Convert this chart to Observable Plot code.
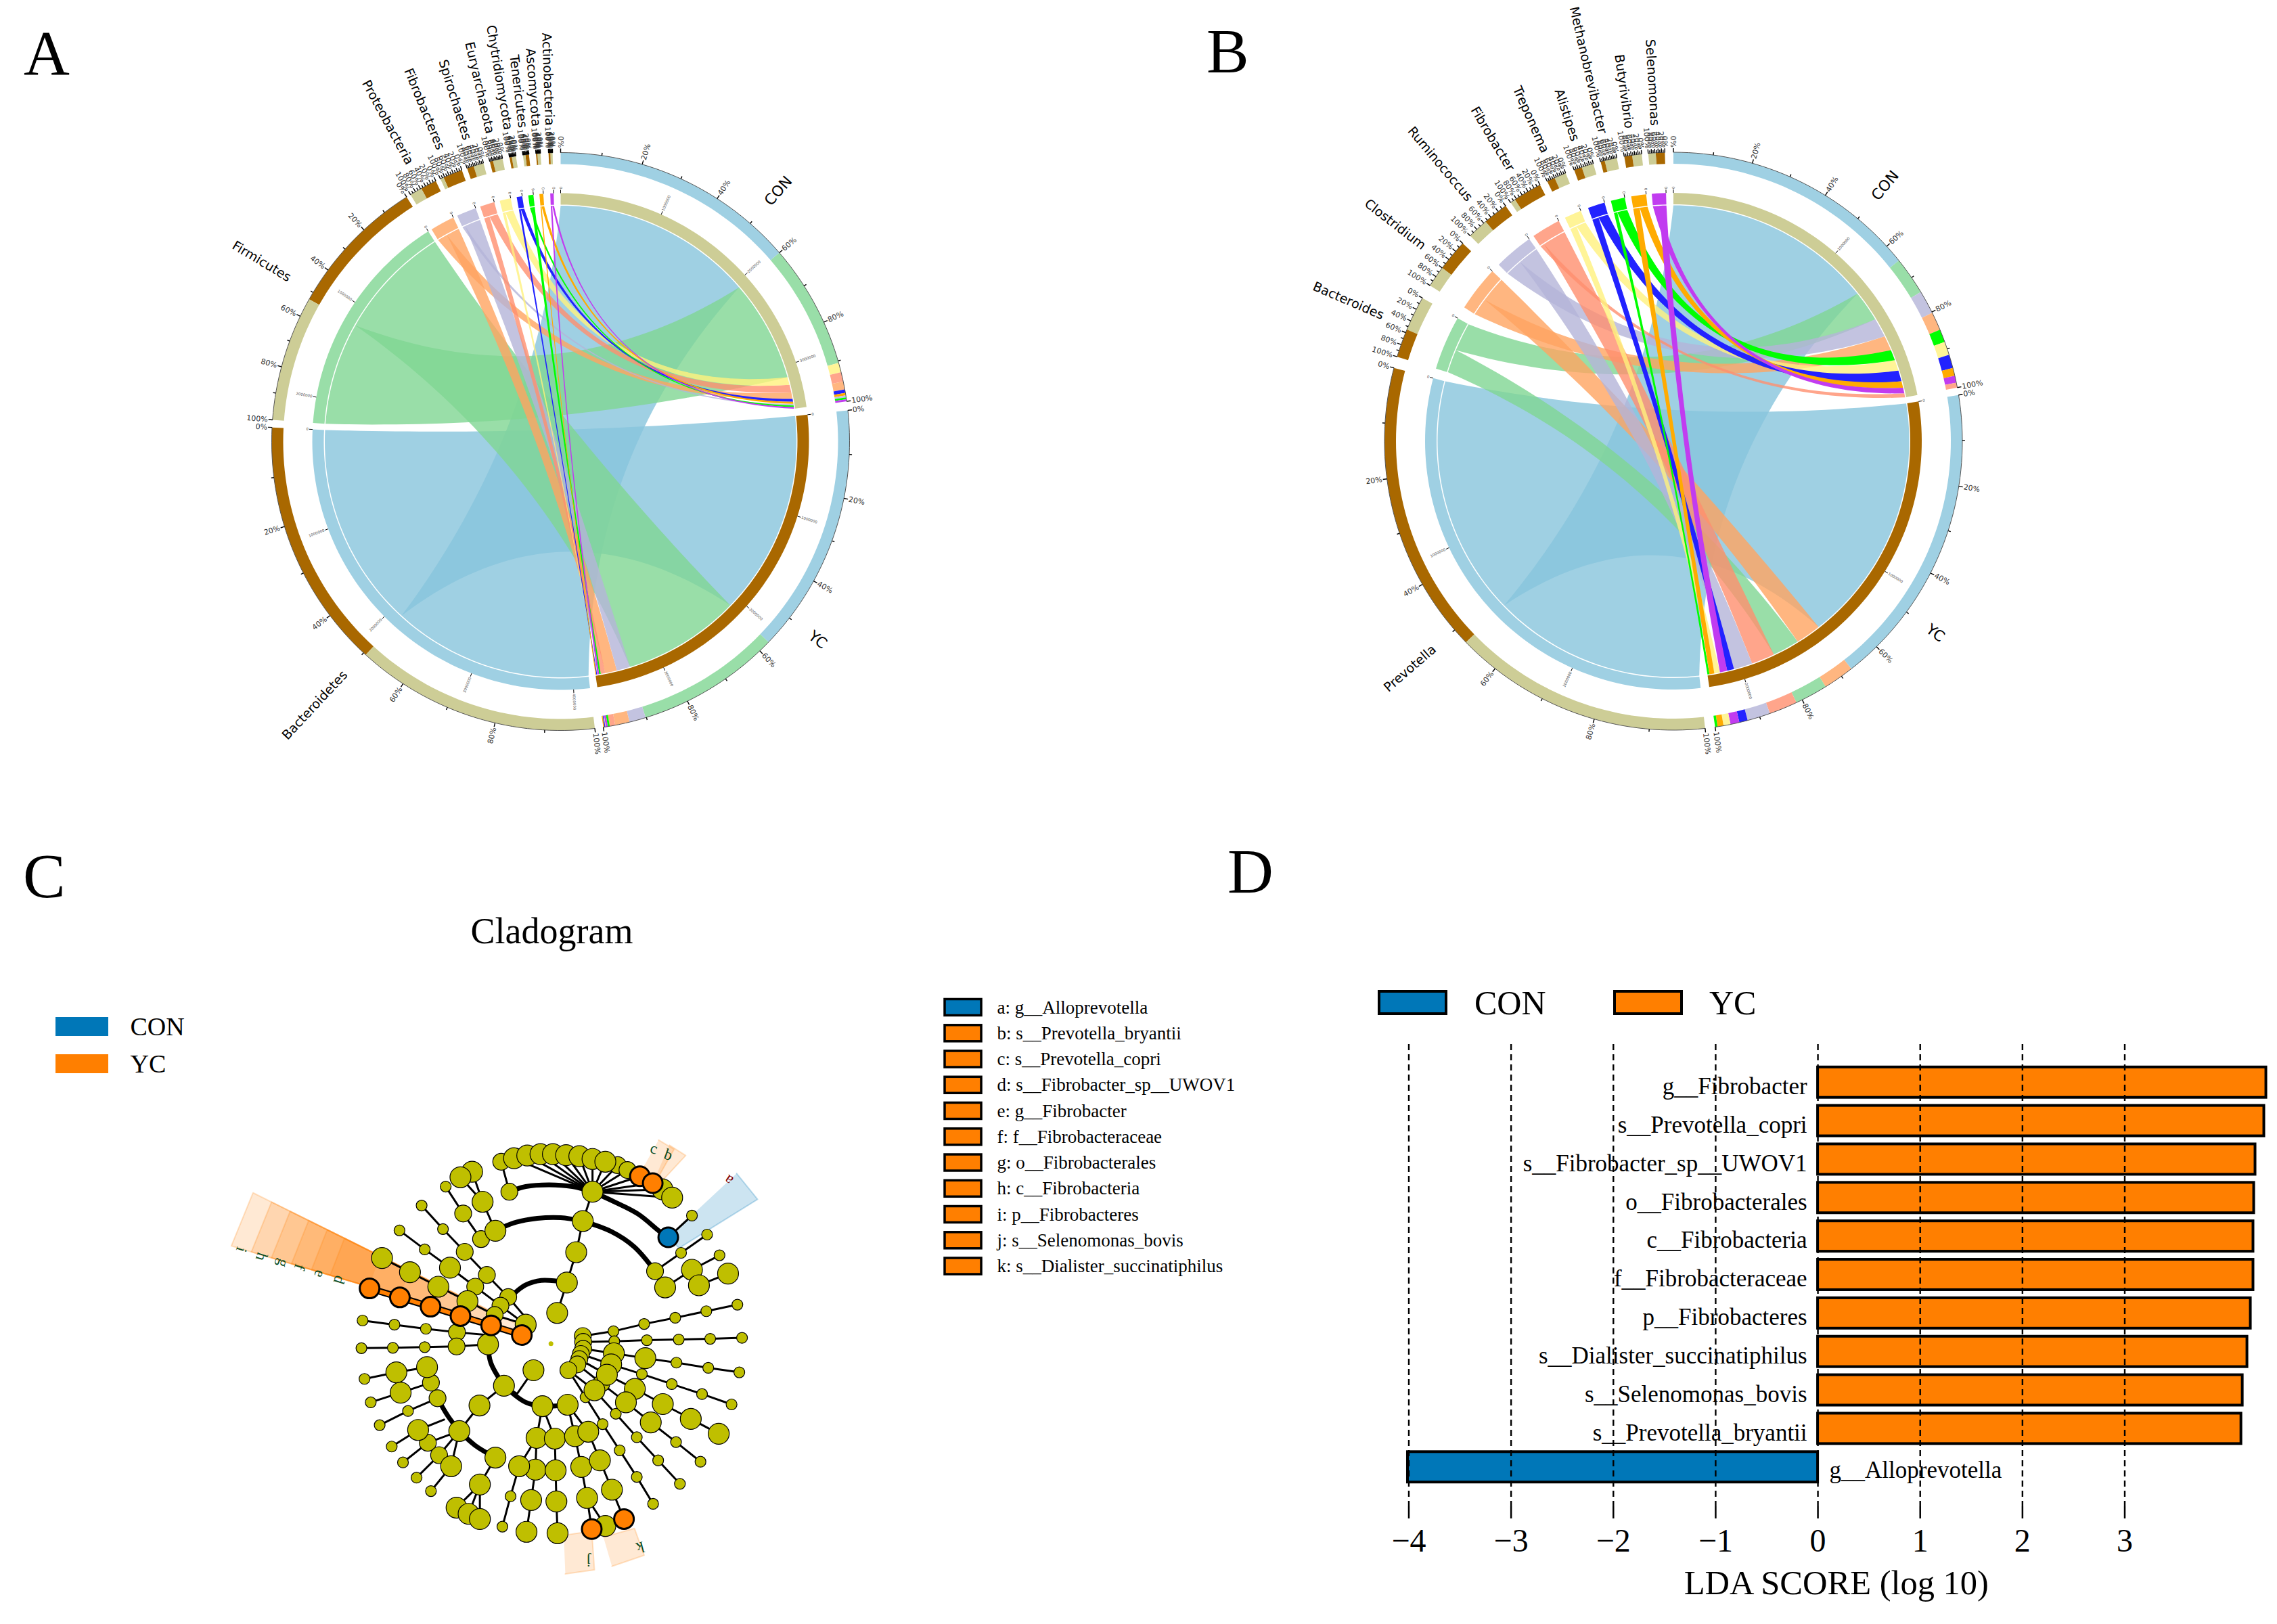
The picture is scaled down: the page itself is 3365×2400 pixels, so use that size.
<!DOCTYPE html>
<html><head><meta charset="utf-8">
<script src="https://cdn.jsdelivr.net/npm/d3@7"></script>
<script src="https://cdn.jsdelivr.net/npm/@observablehq/plot@0.6"></script>
<style>
body{margin:0;background:#fff}
#page{position:relative;width:3365px;height:2400px;overflow:hidden;background:#fff}
.t{position:absolute;font-family:"Liberation Serif",serif;color:#000;line-height:1;white-space:pre}
.s{position:absolute;border:4px solid #000;box-sizing:border-box}
</style></head><body><div id="page"></div>
<script>
// ---------- shared chord colours ----------
const ringColors=["#9fd0e3","#99dea8","#ffb680","#c3c3e0","#ffa58b","#fff497","#2222ff","#00ff00","#ffab00","#c13cf0"];
const chordColors=["#87c4dc","#80d692","#ffa460","#b4b4d8","#ff8f6e","#fff17d","#2222ff","#00ff00","#ffab00","#c13cf0"];
const chordAlpha=[.8,.8,.8,.8,.8,.8,1,1,1,1];
const brown="#a96800", khaki="#cdcd96";
const pctLabels=[0,10,20,30,40,50,60,70,80,90,100];
// ---------- panel A (phylum): sector limits in degrees clockwise from top ----------
const namesA=["Bacteroidetes","Firmicutes","Proteobacteria","Fibrobacteres","Spirochaetes","Euryarchaeota","Chytridiomycota","Tenericutes","Ascomycota","Actinobacteria"];
const lowA=[-186.8,-85.7,-31.3,-24.6,-18.9,-14.2,-10.2,-7.5,-4.9,-2.4];
const highA=[-87.2,-32.2,-25.6,-20,-15.5,-11.6,-8.9,-6.3,-4,-1.6];
const firstA=["Y","Y","Y","Y","C","C","C","Y","C","C"];
const fracA=[.506,.529,.57,.85,.6,.75,.65,.6,.7,.55];
const conOrderA=[0,1,5,4,2,6,8,3,7,9];
const conBoundsA=[0,49.2,74.2,76.1,78,79.6,80.3,80.8,81.2,81.6,82];
const ycOrderA=[0,1,3,2,4,7,9,5,6,8];
const ycBoundsA=[83.8,134,162.9,166.2,169.1,170.2,170.6,171,171.1,171.3,171.5];
const midAngA=[23.9,47.9,71.4,107.5,131.5,155.5,249.4,225.2,201,177,-55.9,-79.7];
const midTextA=["1000000","2000000","3000000","1000000","2000000","3000000","1000000","2000000","3000000","4000000","1000000","2000000"];
// ---------- panel B (genus) ----------
const namesB=["Prevotella","Bacteroides","Clostridium","Ruminococcus","Fibrobacter","Treponema","Alistipes","Methanobrevibacter","Butyrivibrio","Selenomonas"];
const lowB=[-186.3,-73,-57.4,-44.7,-34.3,-25.9,-20.1,-14.6,-9.8,-5];
const highB=[-75.3,-60.3,-46.8,-35.5,-27.5,-21.9,-16.1,-11.3,-6.3,-1.7];
const firstB=["Y","C","Y","Y","Y","C","C","C","C","Y"];
const fracB=[.53,.55,.6,.55,.85,.6,.6,.75,.55,.55];
const conOrderB=[0,1,3,2,7,5,6,8,9,4];
const conBoundsB=[0,51.3,58.9,63.6,67.3,69.9,72.6,75.3,76.9,78.3,79.3];
const ycOrderB=[0,2,1,4,3,6,9,5,8,7];
const ycBoundsB=[80.8,142,148.2,154.8,160.5,165.1,166.8,168.6,170,171.2,171.7];
const midAngB=[40.8,121.6,163.3,244.6,204];
const midTextB=["1000000","1000000","2000000","1000000","2000000"];

const page=document.getElementById("page");
const rad=a=>a*Math.PI/180, px=(r,a)=>r*Math.sin(rad(a)), py=(r,a)=>r*Math.cos(rad(a));
function arc(a0,a1,r){const n=Math.max(2,Math.ceil(Math.abs(a1-a0)/1.5)+1);
  return d3.range(n).map(i=>{const a=a0+(a1-a0)*i/(n-1);return [px(r,a),py(r,a)];});}
function bez(a,b,r){
  const ax=px(r,a),ay=py(r,a),bx=px(r,b),by=py(r,b);
  let sx=Math.sin(rad(a))+Math.sin(rad(b)),sy=Math.cos(rad(a))+Math.cos(rad(b));
  const L=Math.hypot(sx,sy); let d=((b-a)%360+360)%360; if(d>180)d=360-d;
  const k=.43*(1-d/180); const cx=L<1e-6?0:sx/L*k*r, cy=L<1e-6?0:sy/L*k*r;
  return d3.range(41).map(i=>{const t=i/40,u=1-t;return [u*u*ax+2*u*t*cx+t*t*bx,u*u*ay+2*u*t*cy+t*t*by];});
}
function chordPlot(cfg){
  const {names,low,high,first,frac,conOrder,conBounds,ycOrder,ycBounds,midAng,midText,cx,cy,left,width,R}=cfg;
  let polys=[],id=0;
  const add=(pts,color,op=1)=>{id++;pts.forEach(p=>polys.push({x:p[0],y:p[1],id,color,op}));};
  const sect=(a0,a1,r0,r1,c)=>add(arc(a0,a1,r1).concat(arc(a1,a0,r0)),c);
  const groupRange={C:{},Y:{}};
  conOrder.forEach((s,i)=>groupRange.C[s]=[conBounds[i],conBounds[i+1]]);
  ycOrder.forEach((s,i)=>groupRange.Y[s]=[ycBounds[i],ycBounds[i+1]]);
  const rc=R.chord, chordList=[];
  names.forEach((n,i)=>{
    const sp=low[i]+(high[i]-low[i])*(1-frac[i]);
    const second=first[i]==="Y"?"C":"Y";
    chordList.push([i,first[i],sp,high[i]],[i,second,low[i],sp]);
  });
  chordList.forEach(([i,g,a0,a1])=>{
    const [b0,b1]=groupRange[g][i];
    const pts=[...arc(a0,a1,rc),...bez(a1,b0,rc),...arc(b0,b1,rc),...bez(b1,a0,rc)];
    add(pts,chordColors[i],chordAlpha[i]);
  });
  // middle track
  sect(conBounds[0],conBounds[10],R.m0,R.m1,khaki);
  sect(ycBounds[0],ycBounds[10],R.m0,R.m1,brown);
  names.forEach((n,i)=>sect(low[i],high[i],R.m0,R.m1,ringColors[i]));
  // outer track
  conOrder.forEach((s,i)=>sect(conBounds[i],conBounds[i+1],R.o0,R.o1,ringColors[s]));
  ycOrder.forEach((s,i)=>sect(ycBounds[i],ycBounds[i+1],R.o0,R.o1,ringColors[s]));
  names.forEach((n,i)=>{
    const sp=low[i]+(high[i]-low[i])*(1-frac[i]);
    const c1=first[i]==="Y"?brown:khaki,c2=first[i]==="Y"?khaki:brown;
    sect(sp,high[i],R.o0,R.o1,c1); sect(low[i],sp,R.o0,R.o1,c2);
  });
  // outer edges, ticks and percent labels
  let edges=[],eid=0,ticks=[],pct=[];
  const spans=[[conBounds[0],conBounds[10],1],[ycBounds[0],ycBounds[10],1],...names.map((n,i)=>[high[i],low[i],-1])];
  spans.forEach(([s,e])=>{
    eid++; arc(s,e,R.o1).forEach(p=>edges.push({x:p[0],y:p[1],eid}));
    pctLabels.forEach(v=>{
      const a=s+(e-s)*v/100;
      ticks.push({x1:px(R.o1,a),y1:py(R.o1,a),x2:px(R.o1+(v%20?4:6),a),y2:py(R.o1+(v%20?4:6),a)});
      if(v%20===0)pct.push({x:px(R.o1+7,a),y:py(R.o1+7,a),a,t:v+"%"});
    });
  });
  const norm=a=>((a%360)+360)%360;
  const isR=d=>norm(d.a)>.5&&norm(d.a)<180;
  // middle-track ticks
  let mt=[];
  midAng.forEach((a,i)=>mt.push({a,t:midText[i]}));
  [conBounds[0],ycBounds[0],...high].forEach(a=>mt.push({a,t:"0"}));
  const mticks=mt.map(d=>({x1:px(R.m1,d.a),y1:py(R.m1,d.a),x2:px(R.m1+5,d.a),y2:py(R.m1+5,d.a)}));
  const mtext=mt.map(d=>({...d,x:px(R.m1+6,d.a),y:py(R.m1+6,d.a)}));
  // name labels
  const spLab=names.map((n,i)=>{const a=(low[i]+high[i])/2;return {n,a,x:px(467,a),y:py(467,a)};});
  const grLab=[["CON",(conBounds[0]+conBounds[10])/2],["YC",(ycBounds[0]+ycBounds[10])/2]].map(([n,a])=>({n,a,x:px(466,a),y:py(466,a)}));
  const rotR=d=>d.a-90, rotL=d=>d.a+90;
  return Plot.plot({width,height:1200,margin:0,
    x:{domain:[-cx,width-cx],range:[0,width],axis:null},
    y:{domain:[cy,cy-1200],range:[0,1200],axis:null},
    color:{type:"identity"},
    style:{position:"absolute",left:left+"px",top:"0px",maxWidth:"none",background:"transparent"},
    marks:[
      Plot.line(polys,{x:"x",y:"y",z:"id",fill:"color",fillOpacity:"op",stroke:"none"}),
      Plot.line(edges,{x:"x",y:"y",z:"eid",stroke:"#555",strokeWidth:1}),
      Plot.link(ticks,{x1:"x1",y1:"y1",x2:"x2",y2:"y2",stroke:"#000",strokeWidth:1.4}),
      Plot.link(mticks,{x1:"x1",y1:"y1",x2:"x2",y2:"y2",stroke:"#000",strokeWidth:1}),
      Plot.text(pct.filter(isR),{x:"x",y:"y",text:"t",rotate:rotR,textAnchor:"start",fontSize:11,fill:"#333",fontFamily:"DejaVu Sans"}),
      Plot.text(pct.filter(d=>!isR(d)),{x:"x",y:"y",text:"t",rotate:rotL,textAnchor:"end",fontSize:11,fill:"#333",fontFamily:"DejaVu Sans"}),
      Plot.text(mtext.filter(isR),{x:"x",y:"y",text:"t",rotate:rotR,textAnchor:"start",fontSize:5.5,fill:"#555",fontFamily:"DejaVu Sans"}),
      Plot.text(mtext.filter(d=>!isR(d)),{x:"x",y:"y",text:"t",rotate:rotL,textAnchor:"end",fontSize:5.5,fill:"#555",fontFamily:"DejaVu Sans"}),
      Plot.text(spLab,{x:"x",y:"y",text:"n",rotate:rotL,textAnchor:"end",fontSize:19,fill:"#000",fontFamily:"DejaVu Sans"}),
      Plot.text(grLab,{x:"x",y:"y",text:"n",rotate:rotR,textAnchor:"start",fontSize:22,fill:"#000",fontFamily:"DejaVu Sans"})
    ]});
}
const radii={chord:348.5,m0:350,m1:367,o0:410,o1:427};
page.append(chordPlot({names:namesA,low:lowA,high:highA,first:firstA,frac:fracA,conOrder:conOrderA,conBounds:conBoundsA,ycOrder:ycOrderA,ycBounds:ycBoundsA,midAng:midAngA,midText:midTextA,cx:828,cy:652,left:0,width:1680,R:radii}));
page.append(chordPlot({names:namesB,low:lowB,high:highB,first:firstB,frac:fracB,conOrder:conOrderB,conBounds:conBoundsB,ycOrder:ycOrderB,ycBounds:ycBoundsB,midAng:midAngB,midText:midTextB,cx:792.5,cy:651.5,left:1680,width:1685,R:radii}));

// ---------- panel C (cladogram): positions, in a 1568-unit crop of the 900x800 region at (300,1600) ----------
const nodesLarge=[[800,218],[834,210],[868,206],[900,206],[934,209],[968,212],[1002,220],[1035,228],[1182,308],[1207,332],[1002,315],[977,400],[960,490],[936,578],[911,666],[460,507],[532,548],[605,590],[680,632],[830,700],[635,535],[733,757],[774,877],[850,832],[711,934],[659,1008],[576,823],[497,838],[508,897],[553,1005],[638,1110],[752,1085],[712,1163],[652,1230],[683,1248],[712,1263],[873,936],[938,932],[858,1028],[905,1030],[957,1023],[991,1010],[855,1120],[907,1122],[973,1112],[1021,1093],[844,1208],[909,1212],[988,1202],[1052,1178],[832,1300],[912,1304],[1035,1283],[813,1110],[1189,592],[1258,541],[1276,586],[1351,552],[1057,783],[1138,797],[1050,815],[1039,845],[1111,886],[1183,930],[1255,973],[1327,1016],[1088,925],[1152,983],[1007,890],[752,428],[719,344],[692,257],[662,273]];
const nodesMid=[[767,228],[1067,238],[1092,252],[788,315],[715,452],[669,378],[673,489],[730,556],[785,620],[700,590],[765,645],[750,672],[653,722],[652,763],[603,913],[586,868],[578,1042],[607,1078],[1163,545],[977,733],[978,750],[978,770],[972,785],[968,800],[963,815],[940,832],[1025,870]];
const nodesSmall=[[624,300],[562,355],[617,423],[505,427],[570,482],[410,688],[492,700],[573,712],[407,768],[488,767],[570,765],[415,857],[431,925],[454,991],[527,950],[485,1053],[514,1099],[549,1143],[586,1182],[791,1197],[770,1285],[1258,384],[1297,439],[1230,492],[1329,499],[1056,719],[1135,698],[1215,680],[1295,661],[1375,642],[1058,748],[1142,745],[1224,743],[1305,741],[1387,738],[1218,810],[1300,825],[1380,838],[1129,843],[1206,872],[1284,901],[1360,931],[1217,1040],[1280,1097],[1062,958],[1116,1026],[1171,1093],[1227,1161],[984,910],[1028,988],[1072,1064],[1116,1141],[1158,1219]];
const nodesOrange=[[1124,270],[1157,290],[428,595],[506,621],[585,648],[662,675],[741,702],[820,730],[1000,1292],[1083,1263]];
const nodesBlue=[[1197,447]];
const centreDot=[[895,755]];
const thickBranches=[
 [[788,315],[830,300],[890,295],[950,300],[1002,315]],
 [[1002,315],[1060,345],[1120,380],[1175,430],[1197,447]],
 [[752,428],[800,405],[860,392],[920,390],[977,400]],
 [[977,400],[1050,430],[1110,475],[1163,545]],
 [[800,610],[830,585],[870,572],[936,578]],
 [[733,757],[740,810],[774,877]],
 [[774,877],[830,925],[873,936],[938,932]],
 [[603,913],[630,965],[659,1008]],
 [[659,1008],[700,1050],[752,1085]]];
const thinBranches=[
 [[911,666],[936,578],[960,490],[977,400],[1002,315]],
 [[1002,315],[800,218]],[[1002,315],[834,210]],[[1002,315],[868,206]],[[1002,315],[900,206]],[[1002,315],[934,209]],[[1002,315],[968,212]],[[1002,315],[1002,220]],[[1002,315],[1035,228]],[[1002,315],[1067,238]],[[1002,315],[1092,252]],[[1002,315],[1124,270]],[[1002,315],[1157,290]],[[1002,315],[1182,308]],[[1002,315],[1207,332]],
 [[788,315],[767,228]],[[752,428],[719,344],[692,257]],[[719,344],[662,273]],[[752,428],[715,452],[669,378],[624,300]],
 [[562,355],[617,423],[673,489],[730,556],[785,620],[830,680]],
 [[505,427],[570,482],[635,535],[700,590],[765,645],[830,700]],
 [[460,507],[532,548],[605,590],[680,632],[750,672],[830,700]],
 [[410,688],[492,700],[573,712],[653,722],[733,730]],
 [[407,768],[488,767],[570,765],[652,763],[733,757]],
 [[774,877],[808,900],[850,832]],[[774,877],[711,934],[659,1008]],
 [[415,857],[497,838],[576,823]],[[431,925],[508,897],[586,868]],[[603,913],[586,868]],[[454,991],[527,950],[603,913]],
 [[485,1053],[553,1005],[620,975]],[[514,1099],[578,1042],[659,1008]],[[549,1143],[607,1078],[659,1008]],[[586,1182],[638,1110],[659,1008]],
 [[752,1085],[712,1163]],[[712,1163],[652,1230]],[[712,1163],[683,1248]],[[712,1163],[712,1263]],
 [[873,936],[858,1028],[855,1120],[844,1208],[832,1300]],[[858,1028],[813,1110],[791,1197],[770,1285]],
 [[873,936],[905,1030],[907,1122],[909,1212],[912,1304]],
 [[938,932],[957,1023],[973,1112],[988,1202],[1000,1292]],[[988,1202],[1035,1283]],
 [[938,932],[991,1010],[1021,1093],[1052,1178],[1083,1263]],
 [[1163,545],[1230,492],[1297,439]],[[1163,545],[1189,592],[1258,541],[1329,499]],[[1258,541],[1276,586],[1351,552]],[[1197,447],[1258,384]],
 [[977,733],[1056,719],[1135,698],[1215,680],[1295,661],[1375,642]],
 [[978,750],[1058,748],[1142,745],[1224,743],[1305,741],[1387,738]],
 [[978,770],[1057,783],[1138,797],[1218,810],[1300,825],[1380,838]],
 [[972,785],[1050,815],[1129,843],[1206,872],[1284,901],[1360,931]],
 [[968,800],[1039,845],[1111,886],[1183,930],[1255,973],[1327,1016]],
 [[963,815],[1025,870],[1088,925],[1152,983],[1217,1040],[1280,1097]],
 [[940,832],[1007,890],[1062,958],[1116,1026],[1171,1093],[1227,1161]],
 [[940,832],[984,910],[1028,988],[1072,1064],[1116,1141],[1158,1219]]];
const orangeBranch=[[428,595],[506,621],[585,648],[662,675],[741,702],[820,730]];
const wedgeStart=[0,.1,.2,.31,.41,.52];
const wedgeEnd=[1,.93,.86,.79,.72,.655];
const wedgeUpper=[[810,700],[128,318]], wedgeLower=[[810,718],[72,472]];
const highlightOrange=[[[1172,165],[1212,192],[1165,285],[1135,240]],[[1200,180],[1242,210],[1180,285],[1165,270]],[[928,1310],[1000,1298],[1007,1410],[932,1422]],[[1030,1315],[1110,1290],[1135,1368],[1052,1400]]];
const highlightBlue=[[[1373,262],[1427,337],[1225,478],[1197,447]]];
const cladeLetters=["a","b","c","d","e","f","g","h","i","j","k"];
const letterX=[1352,1197,1160,350,300,248,205,150,98,992,1125];
const letterY=[282,208,190,570,553,533,522,503,483,1385,1345];
const letterRot=[215,20,15,108,108,108,108,108,108,180,165];
const legendC=["a: g__Alloprevotella","b: s__Prevotella_bryantii","c: s__Prevotella_copri","d: s__Fibrobacter_sp__UWOV1","e: g__Fibrobacter","f: f__Fibrobacteraceae","g: o__Fibrobacterales","h: c__Fibrobacteria","i: p__Fibrobacteres","j: s__Selenomonas_bovis","k: s__Dialister_succinatiphilus"];
const legendCY=[1488.5,1526.8,1565,1603.3,1641.5,1679.8,1718,1756.3,1794.5,1832.8,1871];
const legendGroups=["CON","YC"], legendGroupY=[1517,1572];
const blueC="#0077b8", orangeC="#ff7f00", olive="#bfbf00";

const cxx=v=>300+v*900/1568, cyy=v=>1600+v*800/1568;
const toP=p=>({x:cxx(p[0]),y:cyy(p[1])});
const lerp=(a,b,t)=>[a[0]+(b[0]-a[0])*t,a[1]+(b[1]-a[1])*t];
let wedges=[],wid=0;
wedgeStart.forEach((t0,i)=>{wid++;const t1=wedgeEnd[i];
  [lerp(wedgeUpper[0],wedgeUpper[1],t0),lerp(wedgeUpper[0],wedgeUpper[1],t1),lerp(wedgeLower[0],wedgeLower[1],t1),lerp(wedgeLower[0],wedgeLower[1],t0)].forEach(p=>wedges.push({...toP(p),wid}));});
let hlO=[];highlightOrange.forEach(h=>{wid++;h.forEach(p=>hlO.push({...toP(p),wid}));});
let hlB=[];highlightBlue.forEach(h=>{wid++;h.forEach(p=>hlB.push({...toP(p),wid}));});
const flat=(list)=>list.flatMap((l,i)=>l.map(p=>({...toP(p),i})));
const dots=l=>l.map(toP);
page.append(Plot.plot({width:2000,height:1170,margin:0,
  x:{domain:[0,2000],range:[0,2000],axis:null},y:{domain:[1230,2400],range:[0,1170],axis:null},
  style:{position:"absolute",left:"0px",top:"1230px",maxWidth:"none",background:"transparent"},
  marks:[
    Plot.text(["Cladogram"],{x:()=>815,y:()=>1376,text:d=>d,fontFamily:"Liberation Serif",fontSize:54,fill:"#000"}),
    Plot.rect(legendGroups,{x1:()=>82,x2:()=>160,y1:(d,i)=>legendGroupY[i]-14,y2:(d,i)=>legendGroupY[i]+14,fill:[blueC,orangeC]}),
    Plot.text(legendGroups,{x:()=>192,y:(d,i)=>legendGroupY[i],text:d=>d,textAnchor:"start",fontFamily:"Liberation Serif",fontSize:38,fill:"#000"}),
    Plot.rect(legendC,{x1:()=>1396,x2:()=>1450,y1:(d,i)=>legendCY[i]-12,y2:(d,i)=>legendCY[i]+12,fill:(d,i)=>i?orangeC:blueC,stroke:"#000",strokeWidth:3.5}),
    Plot.text(legendC,{x:()=>1473,y:(d,i)=>legendCY[i],text:d=>d,textAnchor:"start",fontFamily:"Liberation Serif",fontSize:27,fill:"#000"}),
    Plot.line(wedges,{x:"x",y:"y",z:"wid",fill:orangeC,fillOpacity:.17,stroke:orangeC,strokeOpacity:.22,strokeWidth:2}),
    Plot.line(hlO,{x:"x",y:"y",z:"wid",fill:orangeC,fillOpacity:.17,stroke:orangeC,strokeOpacity:.22,strokeWidth:2}),
    Plot.line(hlB,{x:"x",y:"y",z:"wid",fill:blueC,fillOpacity:.2,stroke:blueC,strokeOpacity:.25,strokeWidth:2}),
    Plot.text(cladeLetters,{x:(d,i)=>cxx(letterX[i]),y:(d,i)=>cyy(letterY[i]),text:d=>d,rotate:(d,i)=>letterRot[i],fontFamily:"Liberation Serif",fontSize:23,fill:d=>d==="a"?"#7f0000":"#0a4d24"}),
    Plot.line(flat(thinBranches),{x:"x",y:"y",z:"i",stroke:"#000",strokeWidth:3}),
    Plot.line(flat(thickBranches),{x:"x",y:"y",z:"i",stroke:"#000",strokeWidth:7,curve:"catmull-rom"}),
    Plot.line(orangeBranch.map(toP),{x:"x",y:"y",stroke:"#000",strokeWidth:10}),
    Plot.line(orangeBranch.map(toP),{x:"x",y:"y",stroke:orangeC,strokeWidth:6}),
    Plot.dot(dots(nodesSmall),{x:"x",y:"y",r:8,fill:olive,stroke:"#000",strokeWidth:1.2}),
    Plot.dot(dots(nodesMid),{x:"x",y:"y",r:12.5,fill:olive,stroke:"#000",strokeWidth:1.2}),
    Plot.dot(dots(nodesLarge),{x:"x",y:"y",r:15.5,fill:olive,stroke:"#000",strokeWidth:1.2}),
    Plot.dot(dots(nodesOrange),{x:"x",y:"y",r:14.5,fill:orangeC,stroke:"#000",strokeWidth:3}),
    Plot.dot(dots(nodesBlue),{x:"x",y:"y",r:14.5,fill:blueC,stroke:"#000",strokeWidth:3}),
    Plot.dot(dots(centreDot),{x:"x",y:"y",r:3.5,fill:olive})
  ]}));

// ---------- panel D (LDA bars) ----------
const ldaNames=["g__Fibrobacter","s__Prevotella_copri","s__Fibrobacter_sp__UWOV1","o__Fibrobacterales","c__Fibrobacteria","f__Fibrobacteraceae","p__Fibrobacteres","s__Dialister_succinatiphilus","s__Selenomonas_bovis","s__Prevotella_bryantii","g__Alloprevotella"];
const ldaValues=[4.383,4.363,4.277,4.264,4.257,4.257,4.231,4.198,4.152,4.139,-4.01];
const ldaTicks=[-4,-3,-2,-1,0,1,2,3];
const ldaRows=ldaNames.map((n,i)=>({n,v:ldaValues[i]}));
page.append(Plot.plot({width:1565,height:1150,marginLeft:0,marginRight:0,marginTop:293,marginBottom:174,
  x:{domain:[-4,4.39],range:[281.5,1549.6],axis:null},
  y:{domain:ldaNames,range:[314.85,952.15],padding:.21,round:false,axis:null},
  style:{position:"absolute",left:"1800px",top:"1250px",maxWidth:"none",background:"transparent"},
  marks:[
    Plot.barX(ldaRows,{x1:()=>0,x2:"v",y:"n",fill:d=>d.v<0?blueC:orangeC,stroke:"#000",strokeWidth:4}),
    Plot.text(ldaRows.filter(d=>d.v>0),{x:()=>0,y:"n",text:"n",dx:-16,dy:6,textAnchor:"end",fontFamily:"Liberation Serif",fontSize:35,fill:"#000"}),
    Plot.text(ldaRows.filter(d=>d.v<0),{x:()=>0,y:"n",text:"n",dx:17,dy:5,textAnchor:"start",fontFamily:"Liberation Serif",fontSize:35,fill:"#000"}),
    Plot.ruleX(ldaTicks,{stroke:"#000",strokeWidth:2.4,strokeDasharray:"9 6"}),
    Plot.axisX(ldaTicks,{anchor:"bottom",tickSize:18,tickPadding:14,fontSize:48,fontFamily:"Liberation Serif",label:null,stroke:"#000",strokeWidth:2.5,fill:"#000",tickFormat:d=>String(d).replace("-","\u2212")}),
    Plot.text(["LDA SCORE (log 10)"],{x:()=>.18,frameAnchor:"bottom",dy:129,text:d=>d,fontFamily:"Liberation Serif",fontSize:50.5,fill:"#000"})
  ]}));

// ---------- panel letters and legend of D ----------
const panelLetters=["A","B","C","D"], letterLeft=[35,1783,34,1814], letterTop=[31,28,1247,1240];
panelLetters.forEach((t,i)=>{const e=document.createElement("div");e.className="t";e.textContent=t;e.style.cssText=`left:${letterLeft[i]}px;top:${letterTop[i]}px;font-size:94px`;page.append(e);});
const legendD=["CON","YC"],legendDFill=[blueC,orangeC],legendDLeft=[2036,2384],legendDText=[2179,2526];
legendD.forEach((t,i)=>{const s=document.createElement("div");s.className="s";s.style.cssText=`left:${legendDLeft[i]}px;top:1463px;width:103px;height:37px;background:${legendDFill[i]}`;page.append(s);
  const e=document.createElement("div");e.className="t";e.textContent=t;e.style.cssText=`left:${legendDText[i]}px;top:1457px;font-size:50px`;page.append(e);});
</script></body></html>
